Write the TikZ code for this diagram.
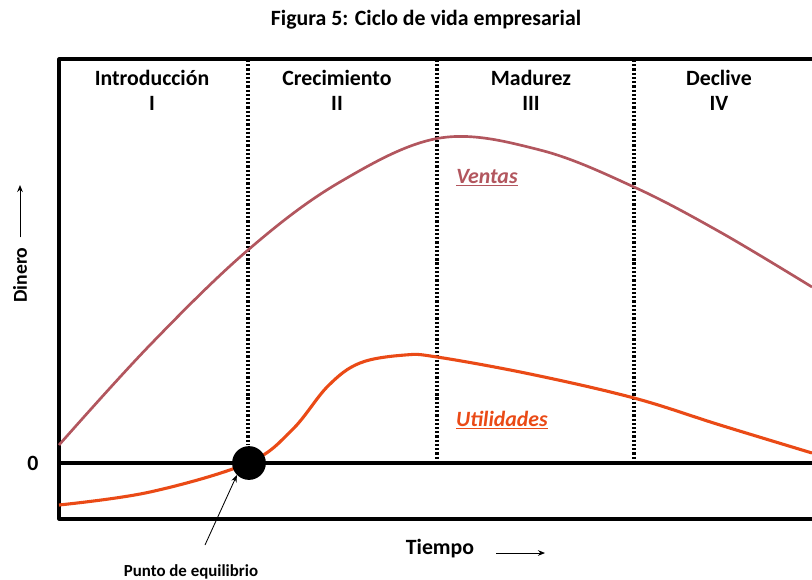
\documentclass[tikz,border=0pt]{standalone}
\usepackage{fontspec}
\setmainfont{Carlito}
\usetikzlibrary{arrows.meta}
\definecolor{ventascol}{RGB}{178,86,94}
\definecolor{utilcol}{RGB}{234,74,22}
\begin{document}
\begin{tikzpicture}[
        x=0.025cm, y=-0.025cm,
        font=\bfseries,
        line join=round
    ]
    \tikzset{
        frame/.style = {line width=2.2pt, draw=black},
        divider/.style = {line width=2.2pt, dash pattern=on 1.6pt off 1.4pt, draw=black},
        phase/.style = {align=center, font=\bfseries\fontsize{15.5}{18}\selectfont, anchor=north},
        axislabel/.style = {font=\bfseries\fontsize{15.5}{18}\selectfont},
        curvelabel/.style = {font=\bfseries\itshape\fontsize{15.5}{18}\selectfont},
        flecha/.style = {-{Stealth[length=5pt,width=4pt]}, line width=0.6pt},
    }
    \useasboundingbox (0,0) rectangle (812,580);
    \node[font=\bfseries\fontsize{15.5}{18}\selectfont] (title) at (426,20) {Figura 5: Ciclo de vida empresarial};
    % ejes y marco
    \draw[frame] (812,59) -- (59,59) -- (59,519) -- (812,519);
    \draw[frame] (59,463) -- (812,463);
    \draw[divider] (248,60) -- (248,445);
    \draw[divider] (437,60) -- (437,462);
    \draw[divider] (634,60) -- (634,462);
    % etapas
    \node[phase] (intro) at (152,65) {Introducción\\I};
    \node[phase] (crec) at (337,65) {Crecimiento\\II};
    \node[phase] (madur) at (531,65) {Madurez\\III};
    \node[phase] (decl) at (719,65) {Declive\\IV};
    % curvas
    \draw[ventascol, line width=1.9pt] plot[smooth, tension=0.6] coordinates {
        (59,445) (150,345) (248,250) (340,182) (440,138) (540,150) (634,187) (720,232) (812,287)};
    \draw[utilcol, line width=2.2pt] plot[smooth, tension=0.6] coordinates {
        (59,505) (150,492) (248,463) (292,430) (328,386) (360,363) (405,355) (437,357) (530,374) (634,398) (720,425) (812,453)};
    \node[curvelabel, text=ventascol] (ventas) at (487,178) {\underline{Ventas}};
    \node[curvelabel, text=utilcol] (utilidades) at (502,420) {\underline{Utilidades}};
    \node[circle, fill=black, minimum width=24pt, inner sep=0pt] (equilibrio) at (249,463) {};
    % rotulos de los ejes
    \node[axislabel] (cero) at (33,463) {0};
    \node[axislabel, rotate=90, inner sep=2pt, font=\bfseries\fontsize{14}{16}\selectfont] (dinero) at (20,275) {Dinero};
    \coordinate (dinerofin) at (20,185);
    \draw[flecha] ([yshift=5pt]dinero.east) -- (dinerofin);
    \node[axislabel] (tiempo) at (440,549) {Tiempo};
    \coordinate (tiempoini) at (496,553);
    \coordinate (tiempofin) at (545,553);
    \draw[flecha] (tiempoini) -- (tiempofin);
    \node[font=\bfseries\fontsize{12}{14}\selectfont] (punto) at (191,572) {Punto de equilibrio};
    \coordinate (puntoini) at (205,545);
    \draw[flecha] (puntoini) -- (equilibrio.south west);
\end{tikzpicture}
\end{document}
